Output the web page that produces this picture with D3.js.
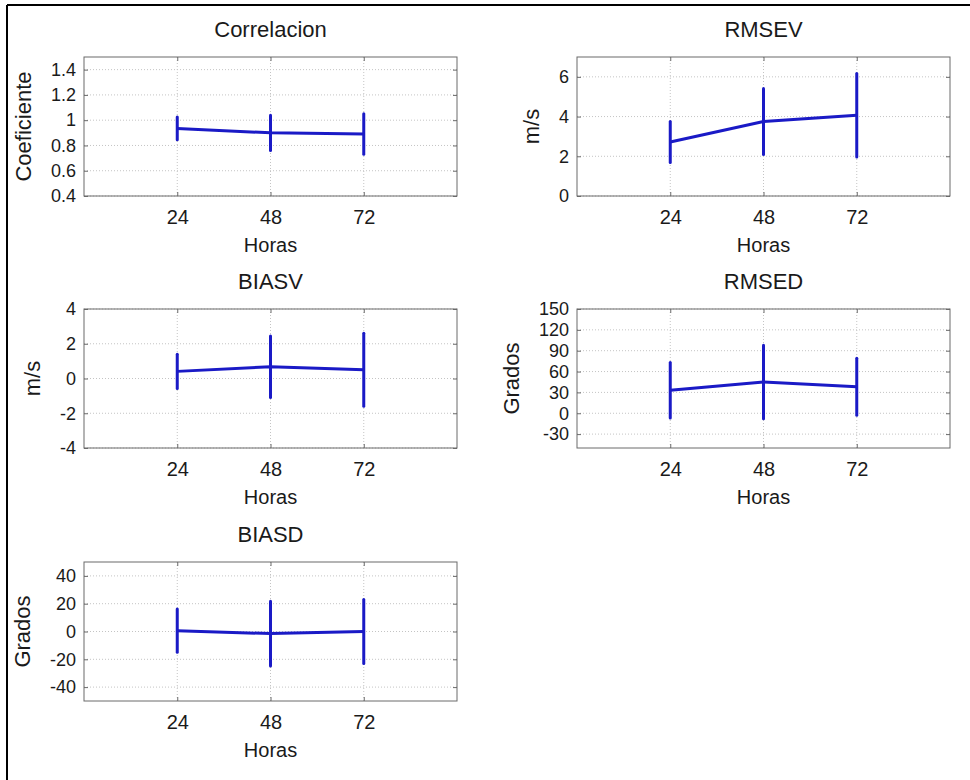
<!DOCTYPE html>
<html><head><meta charset="utf-8">
<script src="https://cdn.jsdelivr.net/npm/d3@7"></script>
<style>
html,body{margin:0;padding:0;background:#fff;}
text{font-family:"Liberation Sans",Arial,Helvetica,sans-serif;fill:#1a1a1a;}
</style></head>
<body>
<svg id="chart" width="970" height="780"></svg>
<script>
// ---- data ----
const hours = [24, 48, 72];
const xTicks = [24, 48, 72];

const corrMean = [0.935, 0.90, 0.89];
const corrErr = [0.09, 0.14, 0.16];
const corrTicks = [0.4, 0.6, 0.8, 1, 1.2, 1.4];

const rmsevMean = [2.72, 3.75, 4.07];
const rmsevErr = [1.03, 1.66, 2.1];
const rmsevTicks = [0, 2, 4, 6];

const biasvMean = [0.41, 0.68, 0.5];
const biasvErr = [0.98, 1.77, 2.1];
const biasvTicks = [-4, -2, 0, 2, 4];

const rmsedMean = [33, 45, 38];
const rmsedErr = [40, 53, 41];
const rmsedTicks = [-30, 0, 30, 60, 90, 120, 150];

const biasdMean = [0.6, -1.5, 0];
const biasdErr = [15.5, 23.3, 23];
const biasdTicks = [-40, -20, 0, 20, 40];

const titles = ["Correlacion", "RMSEV", "BIASV", "RMSED", "BIASD"];
const yLabels = ["Coeficiente", "m/s", "m/s", "Grados", "Grados"];
const xLabel = "Horas";

// ---- layout ----
const panels = [
  {title: titles[0], ylab: yLabels[0], mean: corrMean, err: corrErr, ticks: corrTicks, dom: [0.4, 1.5], x: 84, y: 57},
  {title: titles[1], ylab: yLabels[1], mean: rmsevMean, err: rmsevErr, ticks: rmsevTicks, dom: [0, 7], x: 577, y: 57},
  {title: titles[2], ylab: yLabels[2], mean: biasvMean, err: biasvErr, ticks: biasvTicks, dom: [-4, 4], x: 84, y: 309},
  {title: titles[3], ylab: yLabels[3], mean: rmsedMean, err: rmsedErr, ticks: rmsedTicks, dom: [-50, 150], x: 577, y: 309},
  {title: titles[4], ylab: yLabels[4], mean: biasdMean, err: biasdErr, ticks: biasdTicks, dom: [-50, 50], x: 84, y: 562}
];
const W = 373, H = 139;
const blue = "#1a1ac6";

const svg = d3.select("#chart");

// outer frame (top and left edges)
svg.append("line").attr("x1", 7).attr("x2", 970).attr("y1", 5).attr("y2", 5)
  .attr("stroke", "#000").attr("stroke-width", 2);
svg.append("line").attr("x1", 7).attr("x2", 7).attr("y1", 5).attr("y2", 780)
  .attr("stroke", "#000").attr("stroke-width", 2);

panels.forEach(p => {
  const g = svg.append("g").attr("transform", `translate(${p.x},${p.y})`);
  const x = d3.scaleLinear().domain([0, 96]).range([0, W]);
  const y = d3.scaleLinear().domain(p.dom).range([H, 0]);

  // grid
  g.append("g").selectAll("line").data(xTicks).join("line")
    .attr("x1", d => x(d)).attr("x2", d => x(d)).attr("y1", 0).attr("y2", H)
    .attr("stroke", "#c4c4c4").attr("stroke-width", 1).attr("stroke-dasharray", "1,2");
  g.append("g").selectAll("line").data(p.ticks).join("line")
    .attr("x1", 0).attr("x2", W).attr("y1", d => y(d)).attr("y2", d => y(d))
    .attr("stroke", "#c4c4c4").attr("stroke-width", 1).attr("stroke-dasharray", "1,2");

  // axes with inward ticks
  const fmt = d => String(d);
  const ax = g.append("g").attr("transform", `translate(0,${H})`)
    .call(d3.axisBottom(x).tickValues(xTicks).tickSize(-4).tickPadding(14).tickFormat(fmt));
  ax.selectAll("text").attr("font-size", 20).attr("dy", "0.71em");
  const axT = g.append("g").call(d3.axisTop(x).tickValues(xTicks).tickSize(-4).tickFormat(""));
  const ay = g.append("g")
    .call(d3.axisLeft(y).tickValues(p.ticks).tickSize(-4).tickPadding(8).tickFormat(fmt));
  ay.selectAll("text").attr("font-size", 18);
  const ayR = g.append("g").attr("transform", `translate(${W},0)`)
    .call(d3.axisRight(y).tickValues(p.ticks).tickSize(-4).tickFormat(""));
  [ax, axT, ay, ayR].forEach(a => {
    a.select(".domain").remove();
    a.selectAll("line").attr("stroke", "#6a6a6a");
  });
  // box
  g.append("rect").attr("x", 0).attr("y", 0).attr("width", W).attr("height", H)
    .attr("fill", "none").attr("stroke", "#6a6a6a").attr("stroke-width", 1);

  // data
  const pts = hours.map((h, i) => ({h, m: p.mean[i], e: p.err[i]}));
  g.append("path").datum(pts)
    .attr("d", d3.line().x(d => x(d.h)).y(d => y(d.m)))
    .attr("fill", "none").attr("stroke", blue).attr("stroke-width", 3)
    .attr("stroke-linejoin", "round");
  g.append("g").selectAll("line").data(pts).join("line")
    .attr("x1", d => x(d.h)).attr("x2", d => x(d.h))
    .attr("y1", d => y(d.m - d.e)).attr("y2", d => y(d.m + d.e))
    .attr("stroke", blue).attr("stroke-width", 3).attr("stroke-linecap", "round");

  // title
  g.append("text").attr("x", W / 2).attr("y", -20).attr("text-anchor", "middle")
    .attr("font-size", 22).text(p.title);
  // x label
  g.append("text").attr("x", W / 2).attr("y", H + 56).attr("text-anchor", "middle")
    .attr("font-size", 20).text(xLabel);
  // y label placed left of tick labels
  let minX = 0;
  ay.selectAll("text").each(function() {
    const b = this.getBBox();
    minX = Math.min(minX, b.x);
  });
  g.append("text")
    .attr("transform", `translate(${minX - 28},${H / 2}) rotate(-90)`)
    .attr("text-anchor", "middle").attr("dy", "0.35em")
    .attr("font-size", 22).text(p.ylab);
});
</script>
</body></html>
